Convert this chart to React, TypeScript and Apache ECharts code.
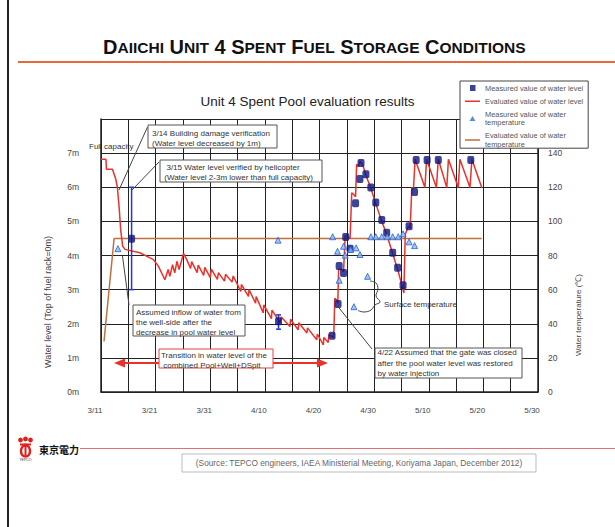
import React, { useEffect, useRef } from 'react';
import * as echarts from 'echarts';

// x values are days counted from 3/11
const xTickLabels = ['3/11', '3/21', '3/31', '4/10', '4/20', '4/30', '5/10', '5/20', '5/30'];

const evaluatedWaterLevel: [number, number][] = [
  [0, 6.82], [0.9, 6.82], [1.0, 6.53], [2.1, 6.53], [2.7, 6.24], [3.0, 6.0], [3.35, 5.35], [3.6, 4.76],
  [3.97, 4.27], [4.4, 4.18], [7.1, 4.08], [9.6, 3.88], [10.5, 3.69], [11.7, 3.29], [12.3, 3.59], [12.6, 3.39],
  [13.1, 3.73], [13.5, 3.49], [13.9, 3.83], [14.3, 3.59], [15.1, 4.06], [15.7, 3.88], [16.4, 3.62], [16.6, 3.82],
  [17.6, 3.5], [17.8, 3.72], [18.8, 3.42], [19.0, 3.65], [20.0, 3.35], [20.2, 3.6], [21.3, 3.3], [21.5, 3.5],
  [22.6, 3.25], [22.8, 3.45], [24.0, 3.22], [24.2, 3.4], [25.6, 2.95], [25.7, 3.15], [27.0, 2.8], [27.1, 3.0],
  [28.3, 2.6], [28.4, 2.8], [29.7, 2.32], [29.8, 2.55], [31.2, 2.15], [31.3, 2.4], [32.8, 2.03], [33.0, 2.2],
  [34.6, 1.92], [34.7, 2.13], [36.1, 1.82], [36.2, 2.03], [37.7, 1.73], [37.8, 1.88], [39.5, 1.53], [39.6, 1.7],
  [40.7, 1.38], [40.8, 1.6], [41.6, 1.45], [41.7, 1.68], [42.6, 1.6], [42.8, 2.75], [43.1, 2.7], [43.35, 2.6],
  [43.5, 3.59], [44.0, 3.6], [44.4, 3.52], [44.7, 4.57], [45.2, 4.55], [45.6, 4.5], [45.9, 5.84], [46.3, 5.78],
  [46.6, 5.72], [46.8, 6.68], [47.1, 6.6], [47.4, 6.77], [48.0, 6.62], [48.5, 6.35], [49.4, 5.97], [50.3, 5.52],
  [51.4, 5.0], [52.3, 4.62], [53.4, 4.05], [54.3, 3.6], [55.3, 3.0], [55.45, 2.9], [55.7, 4.62], [56.3, 4.86],
  [56.6, 4.8], [56.9, 5.99], [57.2, 5.95], [57.5, 6.82], [59.3, 5.99], [59.6, 6.82], [61.4, 5.99], [61.75, 6.82],
  [63.3, 5.99], [63.6, 6.82], [65.4, 5.99], [65.7, 6.82], [67.55, 5.99], [67.9, 6.82], [69.7, 5.99],
];

const measuredWaterLevel: [number, number][] = [
  [5.6, 4.49], [32.5, 2.07], [42.3, 1.65], [43.4, 2.58], [43.6, 3.69], [44.4, 3.49], [44.8, 4.54], [45.6, 4.2],
  [46.6, 5.53], [47.4, 6.24], [47.6, 6.71], [48.5, 6.38], [49.4, 5.99], [50.3, 5.55], [51.4, 5.04], [52.3, 4.67],
  [53.4, 4.08], [54.3, 3.64], [55.3, 3.13], [56.4, 4.86], [57.4, 5.86], [57.7, 6.8], [59.7, 6.8], [61.75, 6.8],
  [67.7, 6.8],
];

const waterLevelErrorBars: [number, number, number][] = [
  [5.6, 3.0, 6.0], [32.5, 1.84, 2.26],
];

const measuredTemperature: [number, number][] = [
  [3.1, 84], [32.4, 89], [42.4, 91], [43.3, 82.5], [43.6, 65.5], [44.4, 85.4], [44.7, 80.2], [45.7, 83.5],
  [46.3, 50], [46.7, 84.5], [47.4, 80.6], [48.8, 67.8], [49.4, 91], [50.3, 91], [51.4, 91], [52.4, 91],
  [53.4, 91], [54.4, 91], [55.3, 92.7], [56.4, 88], [57.4, 85.8],
];

const evaluatedTemperature: [number, number][] = [[0.55, 29.6], [2.4, 90], [69.7, 90]];

const S_MEAS_LVL = 'Measured value of water level';
const S_EVAL_LVL = 'Evaluated value of water level';
const S_MEAS_TMP = 'Measured value of water temperature';
const S_EVAL_TMP = 'Evaluated value of water temperature';
const legendLabels: Record<string, string> = {
  [S_MEAS_LVL]: 'Measured value of water level',
  [S_EVAL_LVL]: 'Evaluated value of water level',
  [S_MEAS_TMP]: 'Measured value of water\ntemperature',
  [S_EVAL_TMP]: 'Evaluated value of water\ntemperature',
};

// legend icons: invisible slivers at the corners keep the 15x7 bounding box
const FRAME = 'M0,0H0.01V0.01H0Z M14.99,6.99H15V7H14.99Z';
const ICON_SQUARE = `path://M5,0.5H10.5V6.5H5Z ${FRAME}`;
const ICON_LINE = `path://M0,2.8H15V4.3H0Z ${FRAME}`;
const ICON_TRI = `path://M7.5,1L10.5,6H4.5Z ${FRAME}`;

const FONT = '"Liberation Sans", Arial, sans-serif';
const TXT = '#333';

function box(x: number, y: number, w: number, h: number, text: string, tx: number, ty: number, lh: number, stroke = '#555') {
  return [
    { type: 'rect', z: 50, shape: { x, y, width: w, height: h }, style: { fill: '#fff', stroke, lineWidth: 1 } },
    { type: 'text', z: 51, x: tx, y: ty, style: { text, fill: TXT, font: `8px ${FONT}`, lineHeight: lh, verticalAlign: 'top' } },
  ];
}

function lineEl(x1: number, y1: number, x2: number, y2: number, stroke = '#444', lineWidth = 1, z = 49) {
  return { type: 'line', z, shape: { x1, y1, x2, y2 }, style: { stroke, lineWidth } };
}

export default function App() {
  const ref = useRef<HTMLDivElement>(null);
  useEffect(() => {
    if (!ref.current) return;
    const chart = echarts.init(ref.current, null, { renderer: 'svg' });
    const big = { fontSize: 20, fontWeight: 'bold', fontFamily: FONT, fill: '#111' };
    const small = { fontSize: 15.5, fontWeight: 'bold', fontFamily: FONT, fill: '#111' };
    const graphic: any[] = [
      { type: 'rect', shape: { x: 7, y: 0, width: 2, height: 527 }, style: { fill: '#222' } },
      {
        type: 'text', x: 103, y: 47,
        style: {
          text: '{b|D}{s|AIICHI}{b| U}{s|NIT}{b| 4 S}{s|PENT}{b| F}{s|UEL}{b| S}{s|TORAGE}{b| C}{s|ONDITIONS}',
          verticalAlign: 'middle',
          rich: { b: { ...big }, s: { ...small } },
        },
      },
      { type: 'line', shape: { x1: 18, y1: 62, x2: 615, y2: 62 }, style: { stroke: '#e8683a', lineWidth: 2 } },
      { type: 'text', x: 89, y: 146, style: { text: 'Full capacity', fill: TXT, font: `8px ${FONT}`, verticalAlign: 'middle' } },
      lineEl(147.5, 127, 119, 190),
      ...box(148, 125, 129, 23, '3/14 Building damage verification\n(Water level decreased by 1m)', 152, 128, 10),
      lineEl(159, 162, 132, 190),
      ...box(160, 160, 162, 22, '  3/15 Water level verified by helicopter\n (Water level 2-3m lower than full capacity)', 162, 162, 10),
      lineEl(122.5, 256, 129, 305),
      ...box(133, 305, 112, 31, 'Assumed inflow of water from\nthe well-side after the\ndecrease in pool water level', 136, 307, 10),
      lineEl(120, 363, 322, 363, '#e8322b', 2, 48),
      { type: 'polygon', z: 48, shape: { points: [[114, 363], [125, 358.5], [125, 367.5]] }, style: { fill: '#e8322b' } },
      { type: 'polygon', z: 48, shape: { points: [[328, 363], [317, 358.5], [317, 367.5]] }, style: { fill: '#e8322b' } },
      ...box(159, 349, 114, 19, 'Transition in water level of the\n combined Pool+Well+DSpit', 161, 350, 10, '#e84040'),
      lineEl(372, 349, 337.5, 306),
      ...box(375, 348, 147, 30, '4/22 Assumed that the gate was closed\nafter the pool water level was restored\nby water injection', 377.5, 347.5, 10.5),
      {
        type: 'polyline', z: 49,
        shape: { points: [[370, 281], [376, 283], [378, 289], [376, 296], [380, 302], [375, 305], [371, 310], [364, 312], [358, 310.5]], smooth: 0.4 },
        style: { stroke: '#444', lineWidth: 1, fill: 'none' },
      },
      { type: 'text', x: 384, y: 304, style: { text: 'Surface temperature', fill: TXT, font: `8px ${FONT}`, verticalAlign: 'middle' } },
      { type: 'text', x: 48, y: 302, rotation: Math.PI / 2, style: { text: 'Water level (Top of fuel rack=0m)', fill: '#444', font: `9px ${FONT}`, align: 'center', verticalAlign: 'middle' } },
      { type: 'text', x: 578, y: 315, rotation: Math.PI / 2, style: { text: 'Water temperature (℃)', fill: '#444', font: `8px ${FONT}`, align: 'center', verticalAlign: 'middle' } },
      { type: 'circle', shape: { cx: 20.5, cy: 440, r: 2.4 }, style: { fill: '#e0201c' } },
      { type: 'circle', shape: { cx: 25.5, cy: 439, r: 2.4 }, style: { fill: '#e0201c' } },
      { type: 'circle', shape: { cx: 30.5, cy: 440, r: 2.4 }, style: { fill: '#e0201c' } },
      { type: 'ellipse', shape: { cx: 25.5, cy: 451, rx: 4.5, ry: 5.5 }, style: { fill: 'none', stroke: '#e0201c', lineWidth: 2.5 } },
      { type: 'rect', shape: { x: 20, y: 443.5, width: 11, height: 2 }, style: { fill: '#e0201c' } },
      { type: 'rect', shape: { x: 24.5, y: 443.5, width: 2, height: 12 }, style: { fill: '#e0201c' } },
      { type: 'text', x: 25.5, y: 460, style: { text: 'TEPCO', fill: '#333', font: `3.5px ${FONT}`, align: 'center', verticalAlign: 'middle' } },
      { type: 'text', x: 39, y: 449, style: { text: '東京電力', fill: '#111', font: `bold 10px "Noto Sans CJK JP"`, verticalAlign: 'middle' } },
      { type: 'line', shape: { x1: 80, y1: 448.5, x2: 615, y2: 448.5 }, style: { stroke: '#e07070', lineWidth: 1 } },
      { type: 'rect', shape: { x: 182, y: 454, width: 354, height: 18 }, style: { fill: 'none', stroke: '#bbb', lineWidth: 1 } },
      { type: 'text', x: 359, y: 463, style: { text: '(Source: TEPCO engineers, IAEA Ministerial Meeting, Koriyama Japan, December 2012)', fill: '#666', font: `8.3px ${FONT}`, align: 'center', verticalAlign: 'middle' } },
    ];

    chart.setOption({
      animation: false,
      backgroundColor: '#fff',
      textStyle: { fontFamily: FONT },
      title: {
        text: 'Unit 4 Spent Pool evaluation results',
        left: 'center', top: 89,
        textStyle: { fontSize: 13.5, fontWeight: 'normal', color: '#222', fontFamily: FONT },
      },
      legend: {
        orient: 'vertical', left: 460, top: 81, z: 60,
        padding: [3, 5, 0, 5], itemGap: 5, itemWidth: 15, itemHeight: 7,
        borderColor: '#444', borderWidth: 1, backgroundColor: '#fff',
        itemStyle: { borderWidth: 0 },
        data: [
          { name: S_MEAS_LVL, icon: ICON_SQUARE, itemStyle: { color: '#0b1580' } },
          { name: S_EVAL_LVL, icon: ICON_LINE, itemStyle: { color: '#e8322b' } },
          { name: S_MEAS_TMP, icon: ICON_TRI, itemStyle: { color: '#2d6ee0' } },
          { name: S_EVAL_TMP, icon: ICON_LINE, itemStyle: { color: '#c0703a' } },
        ],
        formatter: (n: string) => legendLabels[n] || n,
        textStyle: { fontSize: 7.4, color: '#555', lineHeight: 8.2, fontFamily: FONT },
      },
      graphic,
      grid: { left: 101, right: 77, top: 119, bottom: 135, containLabel: false },
      xAxis: {
        type: 'value', min: 0, max: 80, interval: 5,
        axisLine: { lineStyle: { color: '#222', width: 1.5 } },
        axisTick: { show: false },
        splitLine: { show: true, lineStyle: { color: '#222', width: 1 } },
        axisLabel: {
          margin: 14, fontSize: 8, color: '#444', padding: [0, 12, 0, 0],
          formatter: (v: number) => (v % 10 === 0 ? xTickLabels[v / 10] : ''),
        },
      },
      yAxis: [
        {
          type: 'value', min: 0, max: 8, interval: 1,
          axisLine: { show: true, lineStyle: { color: '#222', width: 1.5 } },
          axisTick: { show: false },
          splitLine: { show: true, lineStyle: { color: '#222', width: 1 } },
          axisLabel: { margin: 22, fontSize: 8.5, color: '#444', formatter: (v: number) => (v === 8 ? '' : `${v}m`) },
        },
        {
          type: 'value', min: 0, max: 160, interval: 20, position: 'right',
          axisLine: { show: true, lineStyle: { color: '#222', width: 1.5 } },
          axisTick: { show: false },
          splitLine: { show: false },
          axisLabel: { margin: 10, fontSize: 8.5, color: '#444', formatter: (v: number) => (v === 160 ? '' : `${v}`) },
        },
      ],
      series: [
        {
          name: S_EVAL_TMP, type: 'line', yAxisIndex: 1, data: evaluatedTemperature,
          symbol: 'none', z: 3, lineStyle: { color: '#c0703a', width: 1.5 }, itemStyle: { color: '#c0703a' },
        },
        {
          name: S_EVAL_LVL, type: 'line', yAxisIndex: 0, data: evaluatedWaterLevel,
          symbol: 'none', z: 4, lineStyle: { color: '#e8322b', width: 1.5 }, itemStyle: { color: '#e8322b' },
        },
        {
          name: 'error', type: 'custom', yAxisIndex: 0, z: 5, data: waterLevelErrorBars,
          encode: { x: 0, y: [1, 2] },
          renderItem: (_p: any, api: any) => {
            const x = api.value(0);
            const lo = api.coord([x, api.value(1)]);
            const hi = api.coord([x, api.value(2)]);
            const st = { stroke: '#2436d6', lineWidth: 1.5 };
            return {
              type: 'group',
              children: [
                { type: 'line', shape: { x1: lo[0], y1: lo[1], x2: hi[0], y2: hi[1] }, style: st },
                { type: 'line', shape: { x1: lo[0] - 2.5, y1: lo[1], x2: lo[0] + 2.5, y2: lo[1] }, style: st },
                { type: 'line', shape: { x1: hi[0] - 2.5, y1: hi[1], x2: hi[0] + 2.5, y2: hi[1] }, style: st },
              ],
            };
          },
        },
        {
          name: S_MEAS_LVL, type: 'scatter', yAxisIndex: 0, data: measuredWaterLevel, z: 6,
          symbol: 'roundRect', symbolSize: [7, 8], itemStyle: { color: '#0b1580' },
        },
        {
          name: S_MEAS_TMP, type: 'scatter', yAxisIndex: 1, data: measuredTemperature, z: 6,
          symbol: 'triangle', symbolSize: 6, itemStyle: { color: '#8fb4f0', borderColor: '#2563d4', borderWidth: 1 },
        },
      ],
    });
    return () => chart.dispose();
  }, []);
  return <div ref={ref} style={{ position: 'fixed', left: 0, top: 0, width: 615, height: 527 }} />;
}
